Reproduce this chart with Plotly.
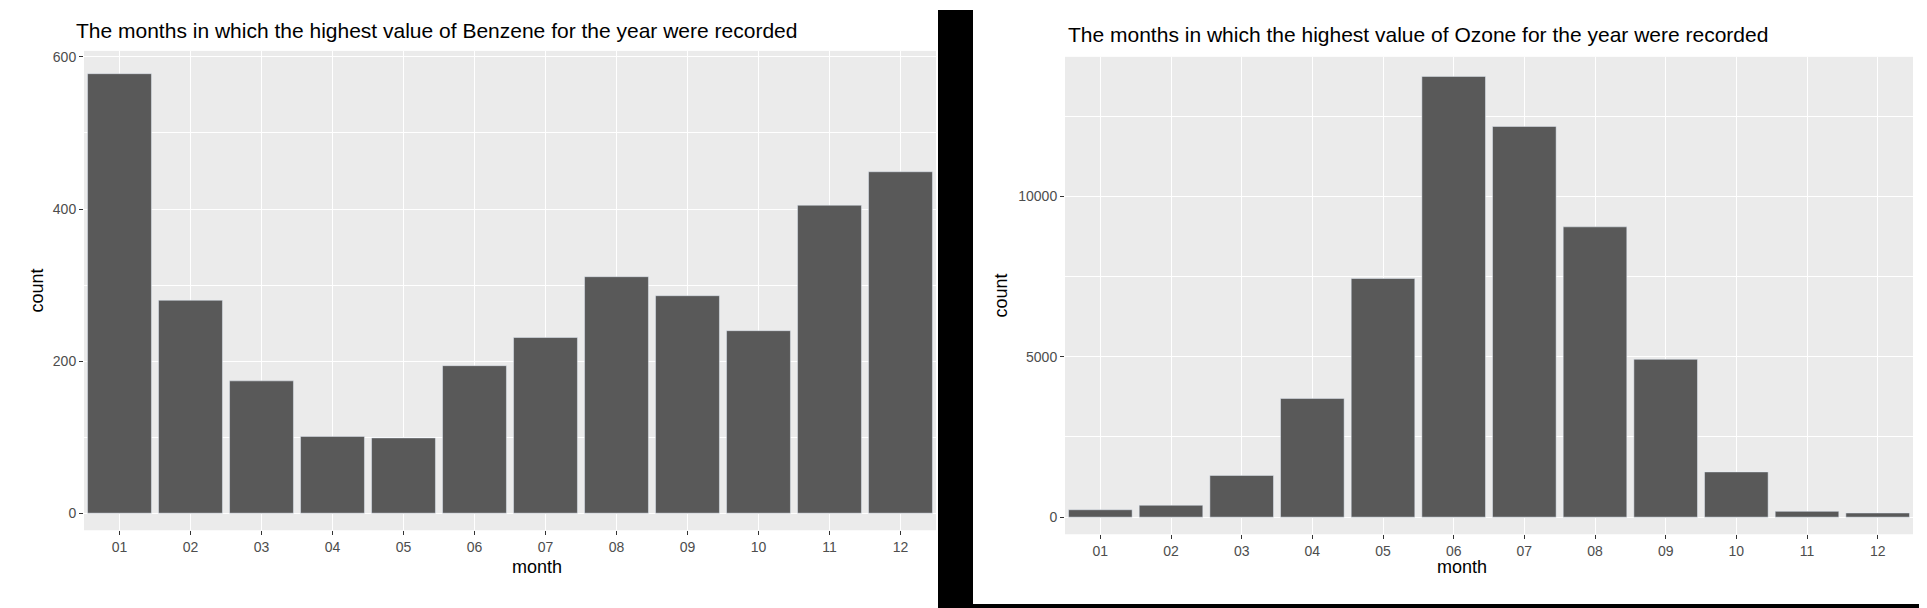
import plotly.graph_objects as go

months = ["01","02","03","04","05","06","07","08","09","10","11","12"]
benzene = [578, 280, 174, 101, 99, 194, 231, 311, 286, 240, 405, 449]
ozone = [230, 370, 1300, 3700, 7440, 13740, 12180, 9050, 4920, 1410, 180, 130]

W, H = 1927, 608
fig = go.Figure()
fig.add_bar(x=months, y=benzene, marker_color="#595959", width=0.9, xaxis="x", yaxis="y", showlegend=False)
fig.add_bar(x=months, y=ozone, marker_color="#595959", width=0.9, xaxis="x2", yaxis="y2", showlegend=False)

tickfont = dict(family="Liberation Sans", size=14, color="#4d4d4d")
titlefont = dict(family="Liberation Sans", size=18, color="#000")
ax = dict(showgrid=True, gridcolor="white", gridwidth=1.3, ticks="outside", ticklen=4,
          tickcolor="#333", tickfont=tickfont, zeroline=False, showline=False)
fig.update_layout(
    width=W, height=H, margin=dict(l=0, r=0, t=0, b=0),
    paper_bgcolor="white", plot_bgcolor="#ebebeb", bargap=0.1,
    xaxis=dict(domain=[76/W, 928/W], anchor="y", **ax),
    yaxis=dict(domain=[1-522/H, 1-41/H], anchor="x", range=[-22.5, 608], tickvals=[0,200,400,600],
               ticktext=["0","200","400","600"],
               minor=dict(tickvals=[100,300,500], showgrid=True, gridcolor="white", gridwidth=0.6, ticks=""), **ax),
    xaxis2=dict(domain=[1057/W, 1905/W], anchor="y2", **ax),
    yaxis2=dict(domain=[1-526/H, 1-47/H], anchor="x2", range=[-534, 14350], tickvals=[0,5000,10000],
                ticktext=["0","5000","10000"],
                minor=dict(tickvals=[2500,7500,12500], showgrid=True, gridcolor="white", gridwidth=0.6, ticks=""), **ax),
    shapes=[
        dict(type="rect", xref="paper", yref="paper", x0=930/W, x1=965/W, y0=0, y1=1,
             fillcolor="black", line_width=0, layer="below"),
        dict(type="rect", xref="paper", yref="paper", x0=965/W, x1=1, y0=0, y1=12/H,
             fillcolor="black", line_width=0, layer="below"),
    ],
    annotations=[
        dict(text="The months in which the highest value of Benzene for the year were recorded", x=66/W, y=1-21/H,
             xref="paper", yref="paper", xanchor="left", yanchor="middle", showarrow=False,
             font=dict(family="Liberation Sans", size=21, color="#000")),
        dict(text="The months in which the highest value of Ozone for the year were recorded", x=1058/W, y=1-25/H,
             xref="paper", yref="paper", xanchor="left", yanchor="middle", showarrow=False,
             font=dict(family="Liberation Sans", size=21, color="#000")),
        dict(text="month", x=(76+928)/2/W, y=1-571/H, xref="paper", yref="paper", showarrow=False, font=titlefont),
        dict(text="month", x=(1057+1905)/2/W, y=1-571/H, xref="paper", yref="paper", showarrow=False, font=titlefont),
        dict(text="count", x=17/W, y=1-(41+522)/2/H, xref="paper", yref="paper", showarrow=False, textangle=-90, font=titlefont),
        dict(text="count", x=993/W, y=1-(47+526)/2/H, xref="paper", yref="paper", showarrow=False, textangle=-90, font=titlefont),
    ],
)
fig.write_html("out.html")
